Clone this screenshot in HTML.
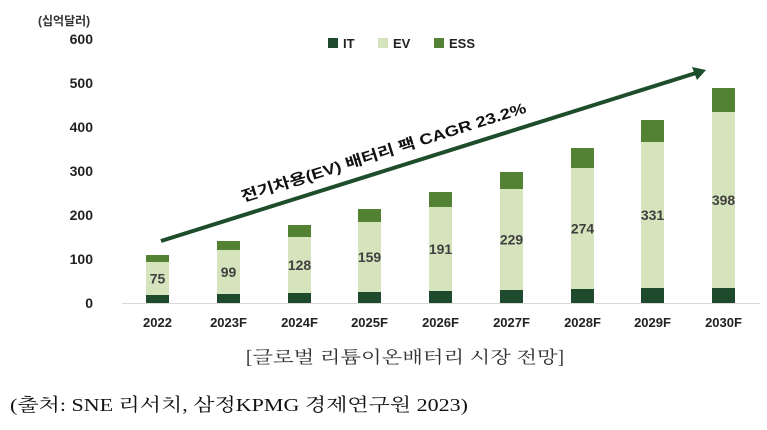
<!DOCTYPE html>
<html><head><meta charset="utf-8"><style>
body{margin:0;background:#fff;width:767px;height:425px;overflow:hidden}
svg text{font-family:"Liberation Sans","Noto Sans CJK KR",sans-serif}
</style></head><body>
<svg width="767" height="425" xmlns="http://www.w3.org/2000/svg">
<text x="38" y="25" font-size="12" font-weight="bold" fill="#333">(십억달러)</text>
<g font-size="14" font-weight="bold" fill="#222" text-anchor="end">
<text x="93" y="44">600</text><text x="93" y="88">500</text><text x="93" y="132">400</text>
<text x="93" y="176">300</text><text x="93" y="220">200</text><text x="93" y="264">100</text>
<text x="93" y="308">0</text></g>
<line x1="122" y1="303.5" x2="760" y2="303.5" stroke="#d9d9d9" stroke-width="1"/>
<g>
<rect x="328" y="38" width="10" height="10" fill="#1f4a2e"/><text x="343" y="48" font-size="13" font-weight="bold" fill="#222">IT</text>
<rect x="378" y="38" width="10" height="10" fill="#d6e4bd"/><text x="393" y="48" font-size="13" font-weight="bold" fill="#222">EV</text>
<rect x="434" y="38" width="10" height="10" fill="#548235"/><text x="449" y="48" font-size="13" font-weight="bold" fill="#222">ESS</text>
</g>
<g id="bars"></g>
<g font-size="13" font-weight="bold" fill="#222" text-anchor="middle" id="xl"></g>
<line x1="161" y1="241" x2="696" y2="73" stroke="#1e4d2b" stroke-width="4"/>
<polygon points="706,70 692,67 697,80" fill="#1e4d2b"/>
<text transform="translate(243,202) rotate(-17.5)" font-size="15" font-weight="bold" fill="#111" textLength="298" lengthAdjust="spacingAndGlyphs">전기차용(EV) 배터리 팩 CAGR 23.2%</text>
<text x="245" y="363" font-size="17" fill="#333" textLength="320" lengthAdjust="spacingAndGlyphs" style="font-family:'Noto Serif CJK SC','Liberation Serif',serif">[글로벌 리튬이온배터리 시장 전망]</text>
<text x="10" y="411" font-size="18" fill="#111" textLength="458" lengthAdjust="spacingAndGlyphs" style="font-family:'Liberation Serif','Noto Serif CJK SC',serif">(출처: SNE 리서치, 삼정KPMG 경제연구원 2023)</text>
</svg>
<script>
var d=[[146,255,262,295,75,"2022"],[217,241,250,294,99,"2023F"],[288,225,237,293,128,"2024F"],[358,209,222,292,159,"2025F"],[429,192,207,291,191,"2026F"],[500,172,189,290,229,"2027F"],[571,148,168,289,274,"2028F"],[641,120,142,288,331,"2029F"],[712,88,112,288,398,"2030F"]];
var s="",t="";
d.forEach(function(b){var x=b[0],w=23;
s+='<rect x="'+x+'" y="'+b[1]+'" width="'+w+'" height="'+(b[2]-b[1])+'" fill="#548235"/>';
s+='<rect x="'+x+'" y="'+b[2]+'" width="'+w+'" height="'+(b[3]-b[2])+'" fill="#d6e4bd"/>';
s+='<rect x="'+x+'" y="'+b[3]+'" width="'+w+'" height="'+(303-b[3])+'" fill="#1f4a2e"/>';
var ly=(b[2]+b[3])/2+5;
s+='<text x="'+(x+11.5)+'" y="'+ly+'" font-size="14" font-weight="bold" fill="#404040" text-anchor="middle">'+b[4]+'</text>';
t+='<text x="'+(x+11.5)+'" y="327">'+b[5]+'</text>';});
document.getElementById("bars").innerHTML=s;document.getElementById("xl").innerHTML=t;
</script>
</body></html>
